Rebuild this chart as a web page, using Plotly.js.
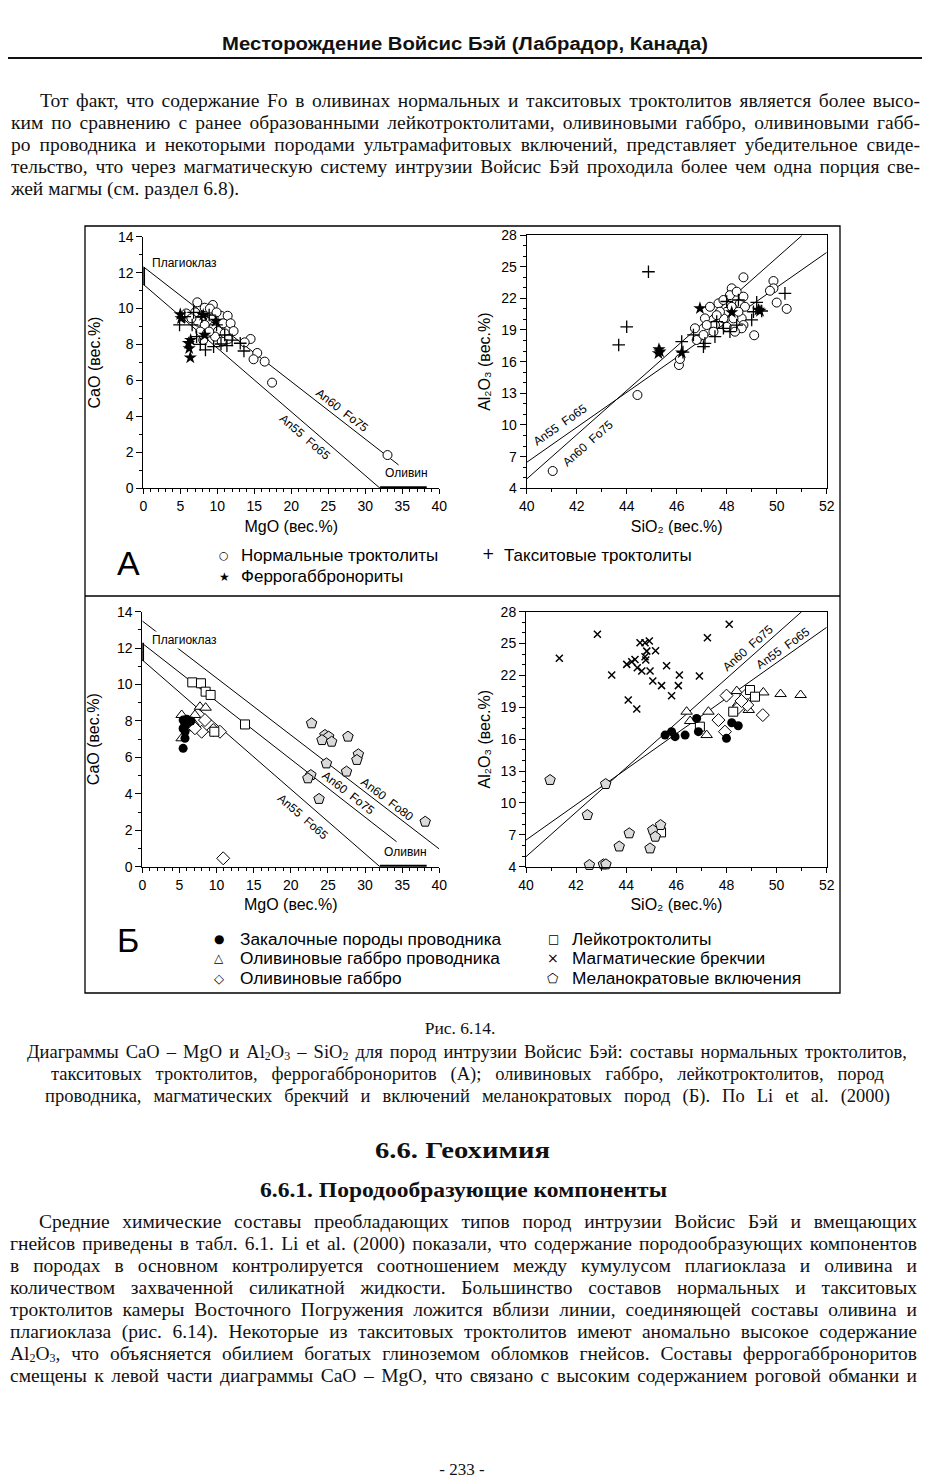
<!DOCTYPE html>
<html><head><meta charset="utf-8">
<script src="https://cdn.plot.ly/plotly-3.0.1.min.js"></script>
<style>
body{margin:0;background:#fff;}
#page{position:relative;width:931px;height:1480px;overflow:hidden;background:#fff;}
#chart{position:absolute;left:0;top:0;width:931px;height:1480px;}
.tl{position:absolute;white-space:nowrap;font-family:"Liberation Serif","Times New Roman",serif;color:#111;}
.tl span{display:inline-block;transform-origin:0 50%;}
.tl sub{font-size:12px;vertical-align:-0.2em;line-height:0;}
#rule{position:absolute;left:8px;top:57px;width:914px;height:2px;background:#111;}
</style></head>
<body><div id="page"><div id="chart"></div><div id="rule"></div></div>
<script>
// ---------------- DATA ----------------
// A: CaO vs MgO
const normTrocA_MgO = [7.3,9.4,8.3,9.0,5.8,7.0,8.1,10.5,11.4,9.5,10.8,11.8,7.4,8.3,9.5,10.1,12.2,7.7,8.6,11.0,9.7,11.5,8.1,10.6,14.5,13.7,15.4,14.9,16.4,17.4,33.0,6.5,9.9,8.9];
const normTrocA_CaO = [10.35,10.2,10.05,10.0,9.73,9.79,9.6,9.6,9.6,9.49,9.18,9.18,9.27,9.09,8.99,8.75,8.75,8.72,8.62,8.62,8.44,8.31,8.25,8.16,8.31,8.12,7.53,7.18,7.05,5.88,1.85,9.46,9.79,8.72];
const taxTrocA_MgO = [4.9,5.6,6.8,6.6,7.2,7.7,8.4,9.5,10.5,11.3,12.0,13.1,13.6,11.0,8.9,7.9,9.9];
const taxTrocA_CaO = [9.09,9.55,9.79,9.09,8.44,8.01,7.7,7.88,8.03,7.94,8.25,8.07,7.64,8.53,9.64,9.55,9.09];
const ferroA_MgO = [5.0,5.1,6.1,6.2,6.35,8.1,8.3,9.8,6.4];
const ferroA_CaO = [9.68,9.46,8.07,7.79,7.27,9.64,8.53,9.31,8.25];
// A: Al2O3 vs SiO2
const normTrocA_SiO2 = [41.04,44.43,46.09,46.13,48.67,49.87,49.87,49.73,50.0,50.4,49.1,48.2,46.73,46.8,47.13,47.33,47.53,47.67,47.87,48.0,48.13,48.4,48.53,48.6,48.67,48.27,47.87,47.47,47.07,48.6,48.67,48.73,47.73,48.2,48.47,47.6,47.2,48.0,48.33];
const normTrocA_Al2O3 = [5.64,12.84,15.68,16.25,23.99,23.64,22.95,22.72,21.6,21.0,18.5,22.95,19.16,18.05,20.1,21.2,19.47,21.52,21.84,20.73,22.3,22.63,21.52,20.1,19.47,20.1,20.1,18.84,18.53,19.16,22.16,21.2,20.73,21.2,20.73,20.4,19.47,19.3,18.84];
const taxTrocA_SiO2 = [44.87,44.0,43.68,46.2,47.13,47.07,47.53,47.87,48.13,48.4,49.0,49.07,49.2,49.4,50.33,48.0,47.6,46.67,48.47,46.25];
const taxTrocA_Al2O3 = [24.52,19.3,17.58,17.9,17.74,17.42,18.37,19.16,18.84,19.47,19.95,20.73,21.62,20.8,22.47,21.7,19.79,18.53,21.84,16.9];
const ferroA_SiO2 = [46.93,45.29,45.27,45.33,46.2,48.2,49.27,49.33];
const ferroA_Al2O3 = [21.05,17.17,16.79,16.95,16.85,20.67,20.9,20.8];
// Б: CaO vs MgO
const chillB_MgO = [5.5,5.75,6.1,5.5,5.75,5.5,6.2,6.55,5.75,6.0];
const chillB_CaO = [8.05,7.78,7.9,7.6,7.05,6.5,7.96,8.0,7.41,8.1];
const olGabCondB_MgO = [5.3,7.77,8.53,7.09,5.75,5.3,6.64,6.9];
const olGabCondB_CaO = [8.33,8.78,8.73,8.33,7.6,7.05,7.78,7.9];
const olGabB_MgO = [8.44,9.56,7.99,10.46,7.09,10.9];
const olGabB_CaO = [8.05,7.5,7.41,7.41,7.6,0.46];
const leucoB_MgO = [6.73,7.9,8.53,9.2,13.83,9.7];
const leucoB_CaO = [10.12,10.07,9.61,9.43,7.81,7.41];
const melanoB_MgO = [22.8,24.6,25.1,24.2,25.5,27.7,29.1,28.9,24.8,27.5,22.7,22.3,23.8,38.1];
const melanoB_CaO = [7.87,7.23,7.14,6.95,6.86,7.14,6.17,5.86,5.67,5.22,5.03,4.85,3.72,2.47];
// Б: Al2O3 vs SiO2
const brecB_SiO2 = [41.33,42.85,43.42,44.02,44.22,44.44,44.62,44.55,44.75,44.92,44.75,44.78,44.08,44.42,44.82,45.17,45.06,45.41,45.61,46.12,46.08,45.81,46.92,47.24,48.11,48.0,44.95,44.35];
const brecB_Al2O3 = [23.61,25.87,22.04,23.04,23.29,22.73,22.42,25.08,25.08,25.24,23.76,23.45,19.69,18.84,24.29,24.33,21.47,21.04,22.92,22.04,21.04,20.09,21.95,25.55,26.81,20.09,22.42,23.5];
const chillB_SiO2 = [45.55,45.81,45.95,46.35,46.81,46.88,48.0,48.21,48.47];
const chillB_Al2O3 = [16.39,16.71,16.24,16.39,17.96,16.71,16.08,17.55,17.27];
const olGabCondB_SiO2 = [46.41,46.55,47.28,47.21,48.41,48.47,48.89,49.47,50.16,50.96];
const olGabCondB_Al2O3 = [18.59,17.71,18.59,16.39,20.53,19.37,18.75,20.4,20.25,20.16];
const leucoB_SiO2 = [46.94,48.94,49.14,48.27,45.39];
const leucoB_Al2O3 = [17.18,20.63,20.0,18.59,7.23];
const olGabB_SiO2 = [47.68,47.94,48.47,48.78,48.83,49.45,48.6,48.0];
const olGabB_Al2O3 = [17.8,16.71,18.96,20.16,19.22,18.27,19.6,20.1];
const melanoB_SiO2 = [40.96,43.18,42.45,43.72,44.12,44.95,45.06,45.16,45.37,42.53,43.09,43.19];
const melanoB_Al2O3 = [12.16,11.78,8.86,5.9,7.14,5.72,7.45,6.82,7.92,4.16,4.22,4.22];
// mixing lines (plagioclase - olivine)
const an60fo75_MgO = [0,34.5], an60fo75_CaO = [12.33,1.3];
const an55fo65_MgO = [0,32.0], an55fo65_CaO = [11.35,0];
const an60fo75B_MgO = [0,34.25], an60fo75B_CaO = [12.26,1.37];
const an60fo80B_MgO = [0,40], an60fo80B_CaO = [13.49,0.97];
const an55fo65_SiO2 = [40,52], an55fo65_Al2O3 = [6.46,26.35];
const an60fo75_SiO2 = [40,51.0], an60fo75_Al2O3 = [4.88,27.93];
const an55fo65B_SiO2 = [40,52], an55fo65B_Al2O3 = [6.51,26.53];
const an60fo75B_SiO2 = [40,51.0], an60fo75B_Al2O3 = [4.94,28.0];
// mineral composition ranges
const plagBar_MgO = [0,0], plagBar_CaO = [11.3,12.3];
const olivBar_MgO = [32,38.3], olivBar_CaO = [0,0];
// tick settings
const mgoTicks = [0,5,10,15,20,25,30,35,40];
const caoTicks = [0,2,4,6,8,10,12,14];
const sio2Ticks = [40,42,44,46,48,50,52];
const al2o3Ticks = [4,7,10,13,16,19,22,25,28];

// ---------------- LAYOUT ----------------
const W=931,H=1480;
const fx=v=>v/W, fy=v=>1-v/H;
const FONT='"Liberation Sans", Arial, sans-serif';

function xax(d0,d1,range,ticks,anchor,mirror,title){
  return {domain:[fx(d0),fx(d1)],range:range,anchor:anchor,tickmode:'array',tickvals:ticks,
    ticks:'outside',ticklen:5,tickwidth:1,tickcolor:'#000',
    minor:{dtick:1,tick0:range[0],ticks:'outside',ticklen:3,tickwidth:1,tickcolor:'#000'},
    showline:true,linecolor:'#000',linewidth:1,mirror:mirror,showgrid:false,zeroline:false,fixedrange:true,
    tickfont:{size:14,color:'#000',family:FONT},
    title:{text:title,font:{size:16,color:'#000',family:FONT},standoff:7}};
}
function yax(d0,d1,range,ticks,anchor,mirror,title,stand){
  return {domain:[fy(d1),fy(d0)],range:range,anchor:anchor,tickmode:'array',tickvals:ticks,
    ticks:'outside',ticklen:6,tickwidth:1,tickcolor:'#000',
    minor:{dtick:1,tick0:range[0],ticks:'outside',ticklen:3,tickwidth:1,tickcolor:'#000'},
    showline:true,linecolor:'#000',linewidth:1,mirror:mirror,showgrid:false,zeroline:false,fixedrange:true,
    tickfont:{size:14,color:'#000',family:FONT},
    title:{text:title,font:{size:16,color:'#000',family:FONT},standoff:stand}};
}

function pts(x,y,xa,ya,sym,size,color,lw,lc){
  return {type:'scatter',mode:'markers',x:x,y:y,xaxis:xa,yaxis:ya,cliponaxis:false,showlegend:false,hoverinfo:'skip',
    marker:{symbol:sym,size:size,color:color,line:{color:lc||'#000',width:lw}}};
}
function ln(x,y,xa,ya,w){
  return {type:'scatter',mode:'lines',x:x,y:y,xaxis:xa,yaxis:ya,cliponaxis:false,showlegend:false,hoverinfo:'skip',
    line:{color:'#000',width:w||1}};
}
const traces=[
  // A left
  ln(an60fo75_MgO,an60fo75_CaO,'x','y'), ln(an55fo65_MgO,an55fo65_CaO,'x','y'),
  ln(plagBar_MgO,plagBar_CaO,'x','y',3.5), ln(olivBar_MgO,olivBar_CaO,'x','y',4),
  pts(normTrocA_MgO,normTrocA_CaO,'x','y','circle',9,'#fff',1),
  pts(taxTrocA_MgO,taxTrocA_CaO,'x','y','cross-thin-open',9,'#000',1.3),
  pts(ferroA_MgO,ferroA_CaO,'x','y','star',10,'#000',0),
  // A right
  ln(an55fo65_SiO2,an55fo65_Al2O3,'x2','y2'), ln(an60fo75_SiO2,an60fo75_Al2O3,'x2','y2'),
  pts(normTrocA_SiO2,normTrocA_Al2O3,'x2','y2','circle',9,'#fff',1),
  pts(taxTrocA_SiO2,taxTrocA_Al2O3,'x2','y2','cross-thin-open',9,'#000',1.3),
  pts(ferroA_SiO2,ferroA_Al2O3,'x2','y2','star',10,'#000',0),
  // Б left
  ln(an60fo80B_MgO,an60fo80B_CaO,'x3','y3'), ln(an60fo75B_MgO,an60fo75B_CaO,'x3','y3'), ln(an55fo65_MgO,an55fo65_CaO,'x3','y3'),
  ln(plagBar_MgO,plagBar_CaO,'x3','y3',3.5), ln(olivBar_MgO,olivBar_CaO,'x3','y3',4),
  pts(olGabCondB_MgO,olGabCondB_CaO,'x3','y3','triangle-up',10,'#fff',1),
  pts(olGabB_MgO,olGabB_CaO,'x3','y3','diamond',10,'#fff',1),
  pts(leucoB_MgO,leucoB_CaO,'x3','y3','square',9,'#fff',1),
  pts(chillB_MgO,chillB_CaO,'x3','y3','circle',9,'#000',0),
  pts(melanoB_MgO,melanoB_CaO,'x3','y3','pentagon',11,'#dadada',1),
  // Б right
  ln(an60fo75B_SiO2,an60fo75B_Al2O3,'x4','y4'), ln(an55fo65B_SiO2,an55fo65B_Al2O3,'x4','y4'),
  pts(brecB_SiO2,brecB_Al2O3,'x4','y4','x-thin-open',7,'#000',1.5),
  pts(olGabCondB_SiO2,olGabCondB_Al2O3,'x4','y4','triangle-up',10,'#fff',1),
  pts(olGabB_SiO2,olGabB_Al2O3,'x4','y4','diamond',10,'#fff',1),
  pts(leucoB_SiO2,leucoB_Al2O3,'x4','y4','square',9,'#fff',1),
  pts(chillB_SiO2,chillB_Al2O3,'x4','y4','circle',9,'#000',0),
  pts(melanoB_SiO2,melanoB_Al2O3,'x4','y4','pentagon',11,'#dadada',1)
];

const NB='\u00a0\u00a0';
function lab(text,x,y,xr,yr,ang,opt){
  return Object.assign({text:text,x:x,y:y,xref:xr,yref:yr,showarrow:false,textangle:ang||0,
    xanchor:'center',yanchor:'middle',font:{size:12,color:'#000',family:FONT}},opt||{});
}
function pa(text,x,y,size,opt){
  return Object.assign({text:text,x:fx(x),y:fy(y),xref:'paper',yref:'paper',showarrow:false,
    xanchor:'left',yanchor:'middle',font:{size:size,color:'#000',family:FONT}},opt||{});
}
const GLY='"DejaVu Sans", sans-serif';
function g(ch,x,y,size){return pa(ch,x,y,size,{xanchor:'center',font:{size:size,color:'#000',family:GLY}});}
const annotations=[
  lab('Плагиоклаз',0.9,12.55,'x','y',0,{xanchor:'left'}),
  lab('Оливин',35.6,0.85,'x','y'),
  lab('An60'+NB+'Fo75',26.8,4.36,'x','y',37.8),
  lab('An55'+NB+'Fo65',21.85,2.87,'x','y',40.8),
  lab('An55'+NB+'Fo65',41.33,10.0,'x2','y2',-35),
  lab('An60'+NB+'Fo75',42.47,8.26,'x2','y2',-41.5),
  lab('Плагиоклаз',1.0,12.44,'x3','y3',0,{xanchor:'left',bgcolor:'#fff'}),
  lab('Оливин',35.4,0.82,'x3','y3'),
  lab('An60'+NB+'Fo80',32.9,3.7,'x3','y3',37.5),
  lab('An60'+NB+'Fo75',27.74,4.03,'x3','y3',37.9),
  lab('An55'+NB+'Fo65',21.68,2.75,'x3','y3',40.9),
  lab('An60'+NB+'Fo75',48.87,24.55,'x4','y4',-41.6),
  lab('An55'+NB+'Fo65',50.27,24.55,'x4','y4',-35.3),
  // legend A
  pa('A',128,563,34,{xanchor:'center'}),
  g('○',224,555,11), pa('Нормальные троктолиты',239,555,17),
  g('+',488,554,15), pa('Такситовые троктолиты',502,555,17),
  g('★',224,577,12), pa('Феррогаббронориты',239,577,17),
  // legend Б
  pa('Б',128,940,34,{xanchor:'center'}),
  g('●',219,939,12), pa('Закалочные породы проводника',238,939,17.3),
  g('△',219,958,12), pa('Оливиновые габбро проводника',238,958,17.3),
  g('◇',219,978,13), pa('Оливиновые габбро',238,978,17.3),
  g('□',553,939,12), pa('Лейкотроктолиты',570,939,17.3),
  g('×',553,958,14), pa('Магматические брекчии',570,958,17.3),
  g('⬠',553,978,13), pa('Меланократовые включения',570,978,17.3)
];

const shapes=[
  {type:'rect',xref:'paper',yref:'paper',x0:fx(85),x1:fx(840),y0:fy(993),y1:fy(226),line:{color:'#000',width:1.3}},
  {type:'line',xref:'paper',yref:'paper',x0:fx(85),x1:fx(840),y0:fy(596),y1:fy(596),line:{color:'#000',width:1.3}}
];

const layout={
  width:W,height:H,margin:{l:0,r:0,t:0,b:0},paper_bgcolor:'rgba(0,0,0,0)',plot_bgcolor:'rgba(0,0,0,0)',
  showlegend:false,font:{family:FONT,color:'#000'},
  xaxis:xax(143.3,439.3,[0,40],mgoTicks,'y',false,'MgO (вес.%)'),
  yaxis:yax(236.7,488.3,[0,14],caoTicks,'x',false,'CaO (вес.%)',13),
  xaxis2:xax(526.7,826.7,[40,52],sio2Ticks,'y2',true,'SiO₂ (вес.%)'),
  yaxis2:yax(235,488.3,[4,28],al2o3Ticks,'x2',true,'Al₂O₃ (вес.%)',6),
  xaxis3:xax(142.3,439.3,[0,40],mgoTicks,'y3',false,'MgO (вес.%)'),
  yaxis3:yax(611.7,866.7,[0,14],caoTicks,'x3',false,'CaO (вес.%)',13),
  xaxis4:xax(526,826.7,[40,52],sio2Ticks,'y4',true,'SiO₂ (вес.%)'),
  yaxis4:yax(611.7,866.7,[4,28],al2o3Ticks,'x4',true,'Al₂O₃ (вес.%)',6),
  annotations:annotations,shapes:shapes
};
Plotly.newPlot('chart',traces,layout,{staticPlot:true,displayModeBar:false});

// ---------------- PAGE TEXT ----------------
const headerText='Месторождение Войсис Бэй (Лабрадор, Канада)';
const topPara=[
 'Тот факт, что содержание Fo в оливинах нормальных и такситовых троктолитов является более высо-',
 'ким по сравнению с ранее образованными лейкотроктолитами, оливиновыми габбро, оливиновыми габб-',
 'ро проводника и некоторыми породами ультрамафитовых включений, представляет убедительное свиде-',
 'тельство, что через магматическую систему интрузии Войсис Бэй проходила более чем одна порция све-',
 'жей магмы (см. раздел 6.8).'];
const captionTitle='Рис. 6.14.';
const captionLines=[
 'Диаграммы CaO – MgO и Al<sub>2</sub>O<sub>3</sub> – SiO<sub>2</sub> для пород интрузии Войсис Бэй: составы нормальных троктолитов,',
 'такситовых троктолитов, феррогабброноритов (А); оливиновых габбро, лейкотроктолитов, пород',
 'проводника, магматических брекчий и включений меланократовых пород (Б). По Li et al. (2000)'];
const heading1='6.6. Геохимия';
const heading2='6.6.1. Породообразующие компоненты';
const bottomPara=[
 'Средние химические составы преобладающих типов пород интрузии Войсис Бэй и вмещающих',
 'гнейсов приведены в табл. 6.1. Li et al. (2000) показали, что содержание породообразующих компонентов',
 'в породах в основном контролируется соотношением между кумулусом плагиоклаза и оливина и',
 'количеством захваченной силикатной жидкости. Большинство составов нормальных и такситовых',
 'троктолитов камеры Восточного Погружения ложится вблизи линии, соединяющей составы оливина и',
 'плагиоклаза (рис. 6.14). Некоторые из такситовых троктолитов имеют аномально высокое содержание',
 'Al<sub>2</sub>O<sub>3</sub>, что объясняется обилием богатых глиноземом обломков гнейсов. Составы феррогабброноритов',
 'смещены к левой части диаграммы CaO – MgO, что связано с высоким содержанием роговой обманки и'];
const pageNumber='- 233 -';

const page=document.getElementById('page');
function addText(html,yc,left,width,o){
  const d=document.createElement('div'); d.className='tl';
  const lh=o.lh||22;
  d.style.left=left+'px'; d.style.top=(yc-lh/2)+'px'; d.style.height=lh+'px'; d.style.lineHeight=lh+'px';
  d.style.fontSize=o.fs+'px'; if(o.bold) d.style.fontWeight='bold'; if(o.family) d.style.fontFamily=o.family;
  if(o.sx) d.style.transform='scaleX('+o.sx+')', d.style.transformOrigin='0 50%';
  const s=document.createElement('span'); s.innerHTML=html; d.appendChild(s); page.appendChild(d);
  if(o.mode){
    const w=s.getBoundingClientRect().width;
    if(o.mode==='justify' && w<width){
      const n=(s.textContent.match(/ /g)||[]).length;
      if(n) s.style.wordSpacing=((width-w)/n)+'px';
    } else {
      s.style.transform='scaleX('+(width/w).toFixed(4)+')';
    }
  } else if(o.center){
    d.style.width=width+'px'; d.style.textAlign='center';
  }
}
addText(headerText,44,222,486,{fs:18,bold:true,family:'"Liberation Sans", Arial, sans-serif',mode:'scale'});
const BF=19.5;
topPara.forEach((t,i)=>{
  const y=101+22*i;
  if(i===0) addText(t,y,40,880,{fs:BF,mode:'justify'});
  else if(i<topPara.length-1) addText(t,y,11,909,{fs:BF,mode:'justify'});
  else addText(t,y,11,909,{fs:BF});
});
addText(captionTitle,1028,365,190,{fs:17.5,center:true});
addText(captionLines[0],1052,27,880,{fs:18.5,mode:'justify'});
addText(captionLines[1],1074,51,833,{fs:18.5,mode:'justify'});
addText(captionLines[2],1096,45,845,{fs:18.5,mode:'justify'});
addText(heading1,1150,375,175,{fs:24,bold:true,mode:'scale'});
addText(heading2,1190,260,407,{fs:20,bold:true,mode:'scale'});
bottomPara.forEach((t,i)=>{
  const y=1222+22*i;
  if(i===0) addText(t,y,39,878,{fs:BF,mode:'justify'});
  else addText(t,y,10,907,{fs:BF,mode:'justify'});
});
addText(pageNumber,1470,412,100,{fs:17,center:true});
</script>
</body></html>
